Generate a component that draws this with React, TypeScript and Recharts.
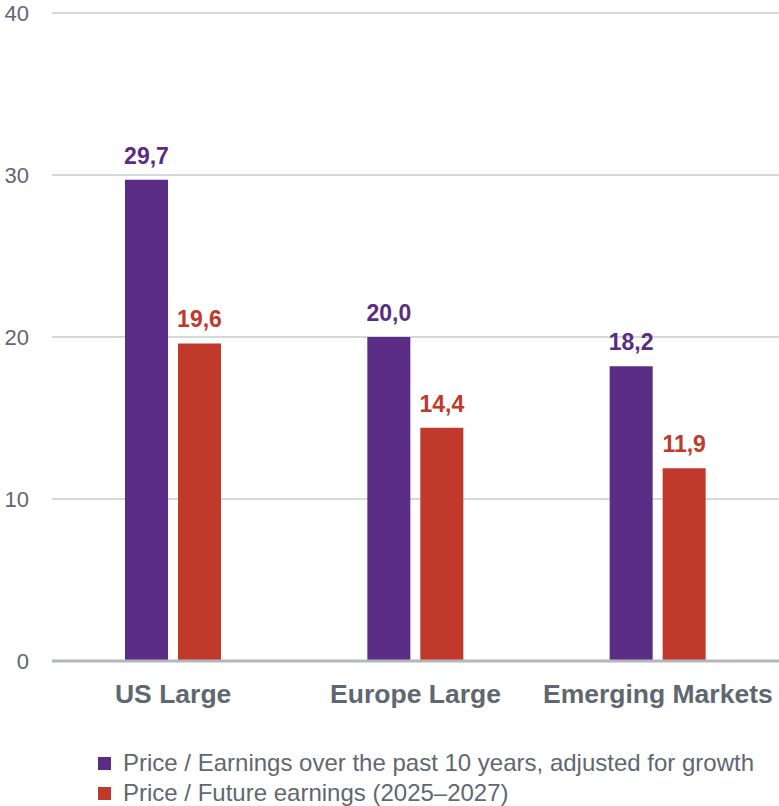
import { BarChart, Bar, XAxis, YAxis, CartesianGrid, Legend, LabelList } from 'recharts';

const categories = ['US Large', 'Europe Large', 'Emerging Markets'];
const pastEarnings = [29.7, 20.0, 18.2];
const futureEarnings = [19.6, 14.4, 11.9];
const yTicks = [0, 10, 20, 30, 40];

const PURPLE = '#5b2c83';
const RED = '#c0392b';
const TEXT = '#5f6770';
const FONT = '"Liberation Sans", Arial, sans-serif';

const chartData = categories.map((name, i) => ({
  name,
  past: pastEarnings[i],
  future: futureEarnings[i],
}));

const fmt = (v: number) => v.toFixed(1).replace('.', ',');

// Legend drawn from the payload Recharts hands us, so the squares keep the series colours
function renderLegend(props: any) {
  const { payload } = props;
  return (
    <ul style={{ listStyle: 'none', margin: 0, padding: 0 }}>
      {payload.map((entry: any) => (
        <li
          key={entry.value}
          style={{ display: 'flex', alignItems: 'center', height: 30, fontSize: 24, color: TEXT, fontFamily: FONT, whiteSpace: 'nowrap' }}
        >
          <span style={{ display: 'inline-block', width: 13, height: 13, background: entry.color, marginRight: 12 }} />
          {entry.value}
        </li>
      ))}
    </ul>
  );
}

export default function App() {
  return (
    <div style={{ position: 'absolute', left: 0, top: 0, fontFamily: FONT }}>
      <BarChart
        width={779}
        height={806}
        data={chartData}
        margin={{ top: 13, right: 0, left: 0, bottom: 105 }}
        barSize={43}
        barGap={10}
      >
        <CartesianGrid vertical={false} stroke="#c9ccd0" strokeWidth={1.5} />
        <XAxis
          dataKey="name"
          height={40}
          tickLine={false}
          tickMargin={17}
          axisLine={{ stroke: '#b2b7bc', strokeWidth: 3 }}
          tick={{ fill: TEXT, fontSize: 26.5, fontWeight: 'bold', fontFamily: FONT }}
          interval={0}
        />
        <YAxis
          width={52}
          domain={[0, 40]}
          ticks={yTicks}
          tickLine={false}
          axisLine={false}
          tickSize={0}
          tickMargin={23}
          tick={{ fill: TEXT, fontSize: 22, fontFamily: FONT }}
        />
        <Legend
          layout="vertical"
          align="center"
          verticalAlign="middle"
          content={renderLegend}
          wrapperStyle={{ top: 748, left: 98, width: 'auto' }}
        />
        <Bar dataKey="past" name="Price / Earnings over the past 10 years, adjusted for growth" fill={PURPLE} isAnimationActive={false}>
          <LabelList dataKey="past" position="top" offset={16} formatter={fmt} fill={PURPLE} fontSize={23} fontWeight="bold" fontFamily={FONT} />
        </Bar>
        <Bar dataKey="future" name="Price / Future earnings (2025–2027)" fill={RED} isAnimationActive={false}>
          <LabelList dataKey="future" position="top" offset={16} formatter={fmt} fill={RED} fontSize={23} fontWeight="bold" fontFamily={FONT} />
        </Bar>
      </BarChart>
    </div>
  );
}
